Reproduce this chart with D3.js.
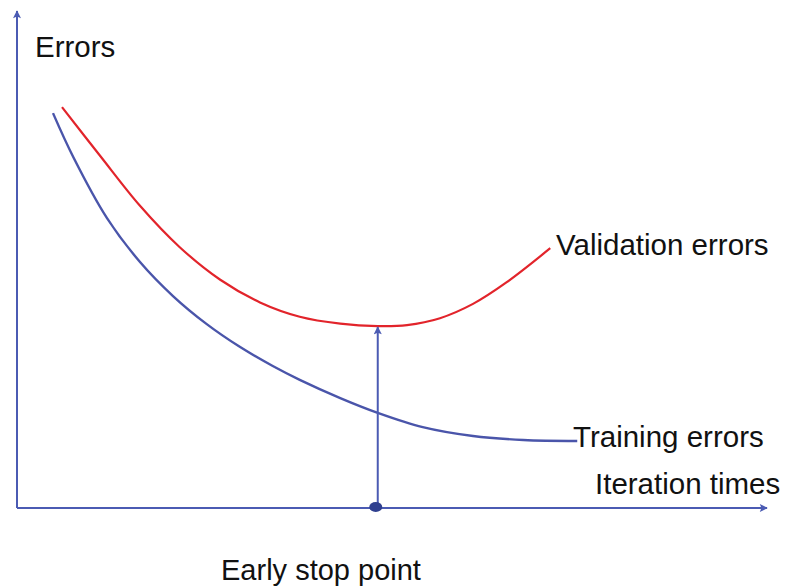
<!DOCTYPE html>
<html>
<head>
<meta charset="utf-8">
<script src="https://cdn.jsdelivr.net/npm/d3@7"></script>
<style>
  html, body { margin: 0; padding: 0; background: #fff; }
  svg text { font-family: "Liberation Sans", Arial, sans-serif; fill: #111; }
</style>
</head>
<body>
<svg id="chart" width="787" height="588"></svg>
<script>
// Iteration positions and error levels (arbitrary units, 0–100)
const validationIter   = [6.0, 11.1, 16.4, 21.7, 27.1, 32.4, 37.7, 43.1, 48.1, 52.0, 56.4, 60.8, 65.3, 71.1];
const validationErrors = [81.3, 71.4, 61.3, 52.9, 46.3, 41.7, 38.8, 37.4, 36.9, 37.1, 38.5, 41.4, 45.8, 52.7];
const trainingIter     = [4.8, 7.5, 12.0, 16.4, 20.8, 25.3, 29.7, 34.1, 37.7, 43.1, 48.1, 54.1, 60.8, 67.5, 74.7];
const trainingErrors   = [80.1, 71.2, 58.8, 49.9, 43.0, 37.3, 32.7, 28.8, 26.0, 22.3, 19.3, 16.4, 14.6, 13.8, 13.6];
const stopIter = 48.1;
const stopError = 36.9;
const labels = {
  yAxis: "Errors",
  xAxis: "Iteration times",
  validation: "Validation errors",
  training: "Training errors",
  stop: "Early stop point"
};

const svg = d3.select("#chart");
const axisColor = "#4b5bb3";
const blue = "#4a55aa";
const red = "#e2242b";

const x = d3.scaleLinear().domain([0, 100]).range([17, 767]);
const y = d3.scaleLinear().domain([0, 100]).range([508, 15]);

// Arrow marker shared by both axes and the early-stop pointer
const defs = svg.append("defs");
defs.append("marker")
  .attr("id", "arrow")
  .attr("viewBox", "0 0 10 10")
  .attr("refX", 9).attr("refY", 5)
  .attr("markerWidth", 5).attr("markerHeight", 4)
  .attr("markerUnits", "strokeWidth")
  .attr("orient", "auto")
  .append("path").attr("d", "M0,0 L10,5 L0,10 L2,5 Z").attr("fill", axisColor);

// Axes
svg.append("line")
  .attr("x1", x(0)).attr("y1", y(0)).attr("x2", x(100)).attr("y2", y(0))
  .attr("stroke", axisColor).attr("stroke-width", 2).attr("marker-end", "url(#arrow)");
svg.append("line")
  .attr("x1", x(0)).attr("y1", y(0)).attr("x2", x(0)).attr("y2", y(100) - 4)
  .attr("stroke", axisColor).attr("stroke-width", 2).attr("marker-end", "url(#arrow)");

const line = d3.line().x(d => x(d[0])).y(d => y(d[1])).curve(d3.curveCatmullRom.alpha(0.5));

svg.append("path")
  .datum(d3.zip(trainingIter, trainingErrors))
  .attr("d", line).attr("fill", "none").attr("stroke", blue).attr("stroke-width", 2.4);

svg.append("path")
  .datum(d3.zip(validationIter, validationErrors))
  .attr("d", line).attr("fill", "none").attr("stroke", red).attr("stroke-width", 2.2);

// Early-stop marker: vertical arrow from the x-axis up to the validation minimum
svg.append("line")
  .attr("x1", x(stopIter)).attr("y1", y(0))
  .attr("x2", x(stopIter)).attr("y2", y(stopError) + 1)
  .attr("stroke", axisColor).attr("stroke-width", 2).attr("marker-end", "url(#arrow)");
svg.append("ellipse")
  .attr("cx", x(stopIter) - 2).attr("cy", y(0) - 1)
  .attr("rx", 6.5).attr("ry", 5).attr("fill", "#2f3f8f");

// Labels
const fs = 29.5;
svg.append("text").attr("x", 35).attr("y", 57).attr("font-size", fs).text(labels.yAxis);
svg.append("text").attr("x", 595).attr("y", 494).attr("font-size", fs).text(labels.xAxis);
svg.append("text").attr("x", 556).attr("y", 255).attr("font-size", fs).text(labels.validation);
svg.append("text").attr("x", 573).attr("y", 447).attr("font-size", fs).text(labels.training);
svg.append("text").attr("x", 221).attr("y", 580).attr("font-size", 29).text(labels.stop);
</script>
</body>
</html>
